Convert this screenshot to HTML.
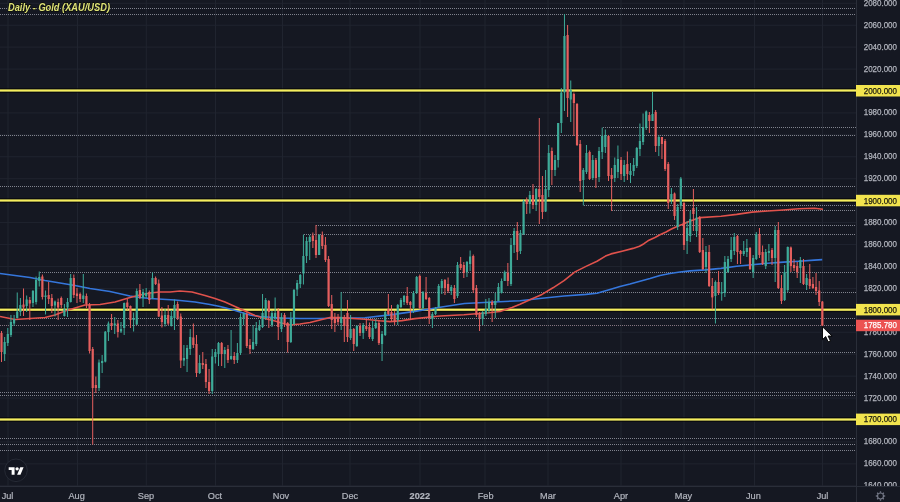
<!DOCTYPE html><html><head><meta charset="utf-8"><style>
html,body{margin:0;padding:0;background:#151822;width:900px;height:502px;overflow:hidden}
svg{display:block;will-change:transform}
text{font-family:"Liberation Sans",sans-serif}
</style></head><body>
<svg width="900" height="502" viewBox="0 0 900 502">
<rect x="0" y="0" width="900" height="502" fill="#151822"/>
<defs><clipPath id="pane"><rect x="0" y="0" width="856" height="486"/></clipPath></defs>
<g clip-path="url(#pane)">
<rect x="0" y="2.76" width="856" height="1" fill="#20242f"/>
<rect x="0" y="24.70" width="856" height="1" fill="#20242f"/>
<rect x="0" y="46.63" width="856" height="1" fill="#20242f"/>
<rect x="0" y="68.57" width="856" height="1" fill="#20242f"/>
<rect x="0" y="90.50" width="856" height="1" fill="#20242f"/>
<rect x="0" y="112.43" width="856" height="1" fill="#20242f"/>
<rect x="0" y="134.37" width="856" height="1" fill="#20242f"/>
<rect x="0" y="156.30" width="856" height="1" fill="#20242f"/>
<rect x="0" y="178.24" width="856" height="1" fill="#20242f"/>
<rect x="0" y="200.17" width="856" height="1" fill="#20242f"/>
<rect x="0" y="222.10" width="856" height="1" fill="#20242f"/>
<rect x="0" y="244.04" width="856" height="1" fill="#20242f"/>
<rect x="0" y="265.97" width="856" height="1" fill="#20242f"/>
<rect x="0" y="287.91" width="856" height="1" fill="#20242f"/>
<rect x="0" y="309.84" width="856" height="1" fill="#20242f"/>
<rect x="0" y="331.77" width="856" height="1" fill="#20242f"/>
<rect x="0" y="353.71" width="856" height="1" fill="#20242f"/>
<rect x="0" y="375.64" width="856" height="1" fill="#20242f"/>
<rect x="0" y="397.58" width="856" height="1" fill="#20242f"/>
<rect x="0" y="419.51" width="856" height="1" fill="#20242f"/>
<rect x="0" y="441.44" width="856" height="1" fill="#20242f"/>
<rect x="0" y="463.38" width="856" height="1" fill="#20242f"/>
<rect x="0" y="485.31" width="856" height="1" fill="#20242f"/>
<rect x="7.50" y="0" width="1" height="486" fill="#20242f"/>
<rect x="77.00" y="0" width="1" height="486" fill="#20242f"/>
<rect x="145.80" y="0" width="1" height="486" fill="#20242f"/>
<rect x="215.00" y="0" width="1" height="486" fill="#20242f"/>
<rect x="282.00" y="0" width="1" height="486" fill="#20242f"/>
<rect x="349.50" y="0" width="1" height="486" fill="#20242f"/>
<rect x="419.50" y="0" width="1" height="486" fill="#20242f"/>
<rect x="484.50" y="0" width="1" height="486" fill="#20242f"/>
<rect x="547.50" y="0" width="1" height="486" fill="#20242f"/>
<rect x="620.50" y="0" width="1" height="486" fill="#20242f"/>
<rect x="683.50" y="0" width="1" height="486" fill="#20242f"/>
<rect x="754.00" y="0" width="1" height="486" fill="#20242f"/>
<rect x="822.00" y="0" width="1" height="486" fill="#20242f"/>
<line x1="0.0" y1="8.5" x2="856" y2="8.5" stroke="#80838e" stroke-width="1" stroke-dasharray="1 1"/>
<line x1="0.0" y1="14.5" x2="856" y2="14.5" stroke="#80838e" stroke-width="1" stroke-dasharray="1 1"/>
<line x1="603.0" y1="127.5" x2="856" y2="127.5" stroke="#80838e" stroke-width="1" stroke-dasharray="1 1"/>
<line x1="0.0" y1="135.5" x2="856" y2="135.5" stroke="#80838e" stroke-width="1" stroke-dasharray="1 1"/>
<line x1="0.0" y1="186.5" x2="856" y2="186.5" stroke="#80838e" stroke-width="1" stroke-dasharray="1 1"/>
<line x1="584.0" y1="205.5" x2="856" y2="205.5" stroke="#80838e" stroke-width="1" stroke-dasharray="1 1"/>
<line x1="612.0" y1="210.5" x2="856" y2="210.5" stroke="#80838e" stroke-width="1" stroke-dasharray="1 1"/>
<line x1="316.0" y1="225.5" x2="856" y2="225.5" stroke="#80838e" stroke-width="1" stroke-dasharray="1 1"/>
<line x1="304.0" y1="234.5" x2="856" y2="234.5" stroke="#80838e" stroke-width="1" stroke-dasharray="1 1"/>
<line x1="40.0" y1="272.5" x2="856" y2="272.5" stroke="#80838e" stroke-width="1" stroke-dasharray="1 1"/>
<line x1="341.0" y1="292.5" x2="856" y2="292.5" stroke="#80838e" stroke-width="1" stroke-dasharray="1 1"/>
<line x1="30.0" y1="318.5" x2="856" y2="318.5" stroke="#80838e" stroke-width="1" stroke-dasharray="1 1"/>
<line x1="250.0" y1="352.5" x2="856" y2="352.5" stroke="#80838e" stroke-width="1" stroke-dasharray="1 1"/>
<line x1="0.0" y1="392.5" x2="856" y2="392.5" stroke="#80838e" stroke-width="1" stroke-dasharray="1 1"/>
<line x1="0.0" y1="395.5" x2="856" y2="395.5" stroke="#80838e" stroke-width="1" stroke-dasharray="1 1"/>
<line x1="0.0" y1="438.5" x2="856" y2="438.5" stroke="#80838e" stroke-width="1" stroke-dasharray="1 1"/>
<line x1="0.0" y1="444.5" x2="856" y2="444.5" stroke="#80838e" stroke-width="1" stroke-dasharray="1 1"/>
<line x1="0.0" y1="450.5" x2="856" y2="450.5" stroke="#80838e" stroke-width="1" stroke-dasharray="1 1"/>
<line x1="0" y1="325.5" x2="856" y2="325.5" stroke="#857580" stroke-width="1" stroke-dasharray="1 1"/>
<rect x="0" y="88.10" width="856" height="1.2" fill="#07080a" opacity="0.8"/>
<rect x="0" y="91.70" width="856" height="1.2" fill="#07080a" opacity="0.8"/>
<rect x="0" y="89.40" width="856" height="2.2" fill="#f6ee5e"/>
<rect x="0" y="198.10" width="856" height="1.2" fill="#07080a" opacity="0.8"/>
<rect x="0" y="201.70" width="856" height="1.2" fill="#07080a" opacity="0.8"/>
<rect x="0" y="199.40" width="856" height="2.2" fill="#f6ee5e"/>
<rect x="0" y="307.30" width="856" height="1.2" fill="#07080a" opacity="0.8"/>
<rect x="0" y="310.90" width="856" height="1.2" fill="#07080a" opacity="0.8"/>
<rect x="0" y="308.60" width="856" height="2.2" fill="#f6ee5e"/>
<rect x="0" y="417.10" width="856" height="1.2" fill="#07080a" opacity="0.8"/>
<rect x="0" y="420.70" width="856" height="1.2" fill="#07080a" opacity="0.8"/>
<rect x="0" y="418.40" width="856" height="2.2" fill="#f6ee5e"/>
<polyline points="0.0,273.5 30.0,277.5 45.0,280.5 60.0,283.0 75.0,285.5 90.0,288.5 110.0,291.5 130.0,296.0 140.0,297.5 150.0,298.5 175.0,300.0 195.0,302.0 210.0,304.5 220.0,306.5 230.0,309.0 240.0,312.0 250.0,315.0 260.0,316.5 280.0,318.0 300.0,318.5 320.0,318.5 340.0,318.0 365.0,317.7 390.0,314.9 415.0,311.4 440.0,307.3 464.5,303.5 489.0,302.2 514.0,301.0 520.0,300.7 542.0,298.2 564.0,296.0 586.0,294.4 597.0,293.3 603.0,291.5 610.0,289.5 620.0,286.5 630.0,284.0 640.0,281.2 650.0,278.5 660.0,275.5 670.0,273.5 680.0,272.0 690.0,270.9 705.5,269.9 721.0,268.4 736.7,266.3 752.0,264.8 767.8,263.2 783.3,262.1 799.0,261.2 814.4,260.1 822.2,259.6" fill="none" stroke="#3576db" stroke-width="1.6" stroke-linejoin="round"/>
<polyline points="0.0,316.5 15.0,319.5 30.0,318.5 45.0,317.5 55.0,315.0 65.0,311.0 85.0,305.0 100.0,304.5 115.0,302.0 130.0,297.5 140.0,295.0 150.0,293.0 160.0,292.0 170.0,292.0 180.0,291.0 192.0,292.0 205.0,295.5 215.0,298.5 225.0,302.0 235.0,306.5 245.0,311.0 255.0,315.5 265.0,318.5 275.0,321.0 283.0,323.5 290.0,325.0 300.0,324.0 310.0,322.5 320.0,320.0 330.0,317.5 340.0,317.6 365.0,319.2 380.0,320.8 390.0,321.6 402.0,320.6 415.0,318.6 440.0,316.0 464.0,314.7 489.0,312.7 500.0,311.5 512.0,307.5 520.0,304.3 531.0,299.3 542.0,294.4 553.0,287.8 564.0,280.7 575.0,271.9 586.0,266.4 597.0,261.2 605.5,256.1 611.0,253.9 622.0,251.2 633.0,248.4 639.5,246.3 644.0,243.7 649.0,240.2 655.0,237.5 660.0,234.7 666.0,232.0 671.0,229.3 677.0,226.5 682.0,224.6 689.0,221.6 700.0,217.6 721.0,216.2 736.7,214.4 752.0,212.1 767.8,211.0 783.3,210.0 798.9,208.7 814.4,208.2 823.0,209.3" fill="none" stroke="#e0524c" stroke-width="1.6" stroke-linejoin="round"/>
<rect x="1.00" y="331.0" width="1" height="31.0" fill="#e55f5e"/>
<rect x="0.40" y="333.0" width="2.2" height="19.0" fill="#e55f5e"/>
<rect x="4.14" y="337.0" width="1" height="24.0" fill="#3eaa98"/>
<rect x="3.54" y="342.0" width="2.2" height="12.0" fill="#3eaa98"/>
<rect x="7.29" y="328.0" width="1" height="18.0" fill="#3eaa98"/>
<rect x="6.69" y="334.0" width="2.2" height="9.0" fill="#3eaa98"/>
<rect x="10.44" y="315.0" width="1" height="22.0" fill="#3eaa98"/>
<rect x="9.84" y="322.0" width="2.2" height="13.0" fill="#3eaa98"/>
<rect x="13.58" y="315.0" width="1" height="11.0" fill="#3eaa98"/>
<rect x="12.98" y="319.0" width="2.2" height="4.5" fill="#3eaa98"/>
<rect x="16.73" y="292.5" width="1" height="26.0" fill="#3eaa98"/>
<rect x="16.12" y="311.5" width="2.2" height="6.5" fill="#3eaa98"/>
<rect x="19.87" y="298.0" width="1" height="18.0" fill="#3eaa98"/>
<rect x="19.27" y="305.0" width="2.2" height="7.0" fill="#3eaa98"/>
<rect x="23.02" y="288.5" width="1" height="27.5" fill="#e55f5e"/>
<rect x="22.41" y="304.5" width="2.2" height="3.0" fill="#e55f5e"/>
<rect x="26.16" y="295.5" width="1" height="16.5" fill="#3eaa98"/>
<rect x="25.56" y="299.5" width="2.2" height="6.5" fill="#3eaa98"/>
<rect x="29.30" y="297.0" width="1" height="23.0" fill="#e55f5e"/>
<rect x="28.70" y="300.0" width="2.2" height="3.5" fill="#e55f5e"/>
<rect x="32.45" y="290.0" width="1" height="17.0" fill="#3eaa98"/>
<rect x="31.85" y="291.0" width="2.2" height="12.0" fill="#3eaa98"/>
<rect x="35.59" y="276.5" width="1" height="28.0" fill="#3eaa98"/>
<rect x="34.99" y="280.0" width="2.2" height="22.0" fill="#3eaa98"/>
<rect x="38.74" y="271.5" width="1" height="15.0" fill="#3eaa98"/>
<rect x="38.14" y="277.0" width="2.2" height="4.0" fill="#3eaa98"/>
<rect x="41.88" y="274.5" width="1" height="25.0" fill="#e55f5e"/>
<rect x="41.28" y="276.5" width="2.2" height="20.5" fill="#e55f5e"/>
<rect x="45.03" y="290.5" width="1" height="24.0" fill="#3eaa98"/>
<rect x="44.43" y="295.5" width="2.2" height="1.5" fill="#3eaa98"/>
<rect x="48.17" y="282.0" width="1" height="22.0" fill="#e55f5e"/>
<rect x="47.57" y="295.0" width="2.2" height="4.0" fill="#e55f5e"/>
<rect x="51.32" y="294.0" width="1" height="19.0" fill="#e55f5e"/>
<rect x="50.72" y="298.0" width="2.2" height="8.0" fill="#e55f5e"/>
<rect x="54.47" y="300.5" width="1" height="16.0" fill="#3eaa98"/>
<rect x="53.87" y="301.5" width="2.2" height="4.0" fill="#3eaa98"/>
<rect x="57.61" y="298.5" width="1" height="21.5" fill="#e55f5e"/>
<rect x="57.01" y="302.0" width="2.2" height="5.5" fill="#e55f5e"/>
<rect x="60.76" y="296.5" width="1" height="11.5" fill="#e55f5e"/>
<rect x="60.16" y="298.0" width="2.2" height="7.0" fill="#e55f5e"/>
<rect x="63.90" y="304.0" width="1" height="12.5" fill="#3eaa98"/>
<rect x="63.30" y="309.0" width="2.2" height="7.0" fill="#3eaa98"/>
<rect x="67.05" y="298.0" width="1" height="19.0" fill="#3eaa98"/>
<rect x="66.45" y="302.0" width="2.2" height="5.5" fill="#3eaa98"/>
<rect x="70.19" y="274.0" width="1" height="28.5" fill="#3eaa98"/>
<rect x="69.59" y="278.0" width="2.2" height="24.0" fill="#3eaa98"/>
<rect x="73.33" y="274.5" width="1" height="23.5" fill="#e55f5e"/>
<rect x="72.73" y="278.0" width="2.2" height="17.0" fill="#e55f5e"/>
<rect x="76.48" y="288.0" width="1" height="15.0" fill="#e55f5e"/>
<rect x="75.88" y="293.5" width="2.2" height="2.5" fill="#e55f5e"/>
<rect x="79.62" y="292.5" width="1" height="9.5" fill="#e55f5e"/>
<rect x="79.03" y="294.0" width="2.2" height="5.0" fill="#e55f5e"/>
<rect x="82.77" y="274.0" width="1" height="29.0" fill="#3eaa98"/>
<rect x="82.17" y="295.5" width="2.2" height="3.5" fill="#3eaa98"/>
<rect x="85.92" y="293.5" width="1" height="14.5" fill="#e55f5e"/>
<rect x="85.32" y="296.0" width="2.2" height="8.0" fill="#e55f5e"/>
<rect x="89.06" y="303.0" width="1" height="50.5" fill="#e55f5e"/>
<rect x="88.46" y="305.0" width="2.2" height="46.0" fill="#e55f5e"/>
<rect x="92.20" y="347.0" width="1" height="97.5" fill="#e55f5e"/>
<rect x="91.61" y="349.0" width="2.2" height="39.0" fill="#e55f5e"/>
<rect x="95.35" y="376.5" width="1" height="16.5" fill="#e55f5e"/>
<rect x="94.75" y="385.0" width="2.2" height="3.0" fill="#e55f5e"/>
<rect x="98.50" y="359.5" width="1" height="31.5" fill="#3eaa98"/>
<rect x="97.90" y="362.5" width="2.2" height="25.5" fill="#3eaa98"/>
<rect x="101.64" y="355.0" width="1" height="18.0" fill="#3eaa98"/>
<rect x="101.04" y="361.0" width="2.2" height="2.0" fill="#3eaa98"/>
<rect x="104.78" y="331.0" width="1" height="31.4" fill="#3eaa98"/>
<rect x="104.19" y="331.7" width="2.2" height="29.9" fill="#3eaa98"/>
<rect x="107.93" y="321.5" width="1" height="19.5" fill="#3eaa98"/>
<rect x="107.33" y="323.5" width="2.2" height="8.5" fill="#3eaa98"/>
<rect x="111.08" y="314.0" width="1" height="16.0" fill="#e55f5e"/>
<rect x="110.48" y="323.0" width="2.2" height="2.5" fill="#e55f5e"/>
<rect x="114.22" y="317.0" width="1" height="17.0" fill="#3eaa98"/>
<rect x="113.62" y="323.5" width="2.2" height="2.0" fill="#3eaa98"/>
<rect x="117.36" y="320.0" width="1" height="17.5" fill="#e55f5e"/>
<rect x="116.77" y="323.5" width="2.2" height="8.5" fill="#e55f5e"/>
<rect x="120.51" y="322.0" width="1" height="11.0" fill="#3eaa98"/>
<rect x="119.91" y="329.0" width="2.2" height="2.5" fill="#3eaa98"/>
<rect x="123.66" y="302.5" width="1" height="32.5" fill="#3eaa98"/>
<rect x="123.06" y="303.0" width="2.2" height="25.0" fill="#3eaa98"/>
<rect x="126.80" y="299.0" width="1" height="11.0" fill="#e55f5e"/>
<rect x="126.20" y="302.5" width="2.2" height="4.5" fill="#e55f5e"/>
<rect x="129.94" y="305.5" width="1" height="22.5" fill="#e55f5e"/>
<rect x="129.34" y="306.0" width="2.2" height="14.0" fill="#e55f5e"/>
<rect x="133.09" y="312.5" width="1" height="19.0" fill="#3eaa98"/>
<rect x="132.49" y="318.0" width="2.2" height="2.0" fill="#3eaa98"/>
<rect x="136.24" y="288.5" width="1" height="36.5" fill="#3eaa98"/>
<rect x="135.64" y="291.0" width="2.2" height="33.5" fill="#3eaa98"/>
<rect x="139.38" y="284.0" width="1" height="15.0" fill="#e55f5e"/>
<rect x="138.78" y="290.0" width="2.2" height="8.0" fill="#e55f5e"/>
<rect x="142.53" y="289.0" width="1" height="18.0" fill="#3eaa98"/>
<rect x="141.93" y="292.0" width="2.2" height="6.0" fill="#3eaa98"/>
<rect x="145.67" y="288.0" width="1" height="10.0" fill="#3eaa98"/>
<rect x="145.07" y="293.0" width="2.2" height="3.0" fill="#3eaa98"/>
<rect x="148.81" y="290.5" width="1" height="13.5" fill="#e55f5e"/>
<rect x="148.22" y="292.0" width="2.2" height="8.0" fill="#e55f5e"/>
<rect x="151.96" y="272.5" width="1" height="26.5" fill="#3eaa98"/>
<rect x="151.36" y="278.0" width="2.2" height="20.0" fill="#3eaa98"/>
<rect x="155.10" y="276.5" width="1" height="8.5" fill="#e55f5e"/>
<rect x="154.50" y="278.0" width="2.2" height="6.0" fill="#e55f5e"/>
<rect x="158.25" y="279.5" width="1" height="37.5" fill="#e55f5e"/>
<rect x="157.65" y="283.5" width="2.2" height="33.0" fill="#e55f5e"/>
<rect x="161.40" y="307.0" width="1" height="20.5" fill="#e55f5e"/>
<rect x="160.80" y="315.5" width="2.2" height="6.5" fill="#e55f5e"/>
<rect x="164.54" y="309.0" width="1" height="17.5" fill="#3eaa98"/>
<rect x="163.94" y="315.0" width="2.2" height="9.0" fill="#3eaa98"/>
<rect x="167.69" y="305.0" width="1" height="20.0" fill="#e55f5e"/>
<rect x="167.09" y="315.0" width="2.2" height="8.5" fill="#e55f5e"/>
<rect x="170.83" y="310.0" width="1" height="16.5" fill="#3eaa98"/>
<rect x="170.23" y="316.0" width="2.2" height="10.0" fill="#3eaa98"/>
<rect x="173.97" y="299.5" width="1" height="30.5" fill="#3eaa98"/>
<rect x="173.38" y="305.0" width="2.2" height="13.0" fill="#3eaa98"/>
<rect x="177.12" y="301.5" width="1" height="18.5" fill="#e55f5e"/>
<rect x="176.52" y="304.0" width="2.2" height="14.0" fill="#e55f5e"/>
<rect x="180.27" y="313.5" width="1" height="54.5" fill="#e55f5e"/>
<rect x="179.67" y="316.5" width="2.2" height="44.0" fill="#e55f5e"/>
<rect x="183.41" y="345.0" width="1" height="21.0" fill="#3eaa98"/>
<rect x="182.81" y="358.0" width="2.2" height="2.5" fill="#3eaa98"/>
<rect x="186.56" y="345.0" width="1" height="27.0" fill="#3eaa98"/>
<rect x="185.96" y="348.0" width="2.2" height="11.0" fill="#3eaa98"/>
<rect x="189.70" y="329.0" width="1" height="26.0" fill="#3eaa98"/>
<rect x="189.10" y="337.0" width="2.2" height="12.0" fill="#3eaa98"/>
<rect x="192.84" y="323.5" width="1" height="24.5" fill="#e55f5e"/>
<rect x="192.25" y="337.5" width="2.2" height="7.5" fill="#e55f5e"/>
<rect x="195.99" y="335.0" width="1" height="42.0" fill="#e55f5e"/>
<rect x="195.39" y="344.0" width="2.2" height="29.0" fill="#e55f5e"/>
<rect x="199.13" y="355.0" width="1" height="19.0" fill="#3eaa98"/>
<rect x="198.53" y="363.0" width="2.2" height="10.0" fill="#3eaa98"/>
<rect x="202.28" y="352.0" width="1" height="17.0" fill="#e55f5e"/>
<rect x="201.68" y="363.0" width="2.2" height="2.0" fill="#e55f5e"/>
<rect x="205.43" y="359.0" width="1" height="29.0" fill="#e55f5e"/>
<rect x="204.83" y="364.0" width="2.2" height="18.0" fill="#e55f5e"/>
<rect x="208.57" y="369.0" width="1" height="25.0" fill="#e55f5e"/>
<rect x="207.97" y="382.0" width="2.2" height="9.0" fill="#e55f5e"/>
<rect x="211.72" y="349.0" width="1" height="45.0" fill="#3eaa98"/>
<rect x="211.12" y="356.5" width="2.2" height="34.5" fill="#3eaa98"/>
<rect x="214.86" y="349.0" width="1" height="14.5" fill="#3eaa98"/>
<rect x="214.26" y="352.0" width="2.2" height="5.0" fill="#3eaa98"/>
<rect x="218.00" y="342.0" width="1" height="24.0" fill="#3eaa98"/>
<rect x="217.41" y="343.0" width="2.2" height="11.0" fill="#3eaa98"/>
<rect x="221.15" y="342.0" width="1" height="24.0" fill="#e55f5e"/>
<rect x="220.55" y="343.0" width="2.2" height="11.0" fill="#e55f5e"/>
<rect x="224.29" y="347.0" width="1" height="21.0" fill="#3eaa98"/>
<rect x="223.69" y="350.0" width="2.2" height="4.0" fill="#3eaa98"/>
<rect x="227.44" y="345.0" width="1" height="18.0" fill="#e55f5e"/>
<rect x="226.84" y="349.0" width="2.2" height="11.0" fill="#e55f5e"/>
<rect x="230.59" y="330.0" width="1" height="30.0" fill="#3eaa98"/>
<rect x="229.99" y="356.0" width="2.2" height="3.0" fill="#3eaa98"/>
<rect x="233.73" y="352.0" width="1" height="12.0" fill="#e55f5e"/>
<rect x="233.13" y="356.0" width="2.2" height="4.0" fill="#e55f5e"/>
<rect x="236.88" y="343.0" width="1" height="20.0" fill="#3eaa98"/>
<rect x="236.28" y="353.0" width="2.2" height="7.0" fill="#3eaa98"/>
<rect x="240.02" y="313.5" width="1" height="41.5" fill="#3eaa98"/>
<rect x="239.42" y="317.0" width="2.2" height="36.0" fill="#3eaa98"/>
<rect x="243.16" y="312.5" width="1" height="12.5" fill="#3eaa98"/>
<rect x="242.56" y="313.5" width="2.2" height="4.5" fill="#3eaa98"/>
<rect x="246.31" y="312.5" width="1" height="35.5" fill="#e55f5e"/>
<rect x="245.71" y="314.0" width="2.2" height="32.0" fill="#e55f5e"/>
<rect x="249.46" y="339.0" width="1" height="15.0" fill="#e55f5e"/>
<rect x="248.86" y="345.0" width="2.2" height="4.0" fill="#e55f5e"/>
<rect x="252.60" y="325.0" width="1" height="25.0" fill="#3eaa98"/>
<rect x="252.00" y="342.0" width="2.2" height="7.0" fill="#3eaa98"/>
<rect x="255.75" y="322.0" width="1" height="24.0" fill="#3eaa98"/>
<rect x="255.15" y="328.0" width="2.2" height="16.0" fill="#3eaa98"/>
<rect x="258.89" y="320.0" width="1" height="11.0" fill="#3eaa98"/>
<rect x="258.29" y="326.0" width="2.2" height="4.0" fill="#3eaa98"/>
<rect x="262.04" y="294.0" width="1" height="34.0" fill="#3eaa98"/>
<rect x="261.44" y="313.0" width="2.2" height="14.0" fill="#3eaa98"/>
<rect x="265.18" y="298.0" width="1" height="22.0" fill="#3eaa98"/>
<rect x="264.58" y="300.0" width="2.2" height="18.0" fill="#3eaa98"/>
<rect x="268.32" y="300.0" width="1" height="28.0" fill="#e55f5e"/>
<rect x="267.72" y="301.0" width="2.2" height="11.0" fill="#e55f5e"/>
<rect x="271.47" y="311.0" width="1" height="16.0" fill="#3eaa98"/>
<rect x="270.87" y="313.0" width="2.2" height="12.0" fill="#3eaa98"/>
<rect x="274.62" y="297.5" width="1" height="22.5" fill="#3eaa98"/>
<rect x="274.01" y="313.0" width="2.2" height="5.0" fill="#3eaa98"/>
<rect x="277.76" y="308.0" width="1" height="32.0" fill="#e55f5e"/>
<rect x="277.16" y="311.0" width="2.2" height="16.0" fill="#e55f5e"/>
<rect x="280.91" y="313.0" width="1" height="19.0" fill="#3eaa98"/>
<rect x="280.31" y="317.0" width="2.2" height="12.0" fill="#3eaa98"/>
<rect x="284.05" y="313.0" width="1" height="14.0" fill="#e55f5e"/>
<rect x="283.45" y="315.0" width="2.2" height="8.0" fill="#e55f5e"/>
<rect x="287.19" y="322.0" width="1" height="30.5" fill="#e55f5e"/>
<rect x="286.59" y="323.0" width="2.2" height="19.0" fill="#e55f5e"/>
<rect x="290.34" y="312.0" width="1" height="31.0" fill="#3eaa98"/>
<rect x="289.74" y="319.0" width="2.2" height="23.0" fill="#3eaa98"/>
<rect x="293.49" y="289.0" width="1" height="36.0" fill="#3eaa98"/>
<rect x="292.88" y="290.0" width="2.2" height="34.0" fill="#3eaa98"/>
<rect x="296.63" y="280.0" width="1" height="16.0" fill="#3eaa98"/>
<rect x="296.03" y="283.0" width="2.2" height="6.5" fill="#3eaa98"/>
<rect x="299.77" y="274.0" width="1" height="14.0" fill="#3eaa98"/>
<rect x="299.17" y="275.0" width="2.2" height="9.0" fill="#3eaa98"/>
<rect x="302.92" y="234.5" width="1" height="50.0" fill="#3eaa98"/>
<rect x="302.32" y="256.0" width="2.2" height="17.5" fill="#3eaa98"/>
<rect x="306.06" y="237.0" width="1" height="26.0" fill="#3eaa98"/>
<rect x="305.46" y="241.0" width="2.2" height="15.0" fill="#3eaa98"/>
<rect x="309.21" y="235.0" width="1" height="25.0" fill="#3eaa98"/>
<rect x="308.61" y="237.0" width="2.2" height="5.0" fill="#3eaa98"/>
<rect x="312.36" y="232.5" width="1" height="15.5" fill="#e55f5e"/>
<rect x="311.75" y="235.5" width="2.2" height="5.5" fill="#e55f5e"/>
<rect x="315.50" y="225.0" width="1" height="33.0" fill="#e55f5e"/>
<rect x="314.90" y="240.0" width="2.2" height="15.0" fill="#e55f5e"/>
<rect x="318.64" y="234.0" width="1" height="21.0" fill="#3eaa98"/>
<rect x="318.04" y="235.0" width="2.2" height="20.0" fill="#3eaa98"/>
<rect x="321.79" y="231.5" width="1" height="17.5" fill="#e55f5e"/>
<rect x="321.19" y="235.0" width="2.2" height="11.0" fill="#e55f5e"/>
<rect x="324.94" y="237.0" width="1" height="25.0" fill="#e55f5e"/>
<rect x="324.33" y="245.0" width="2.2" height="15.0" fill="#e55f5e"/>
<rect x="328.08" y="256.0" width="1" height="51.0" fill="#e55f5e"/>
<rect x="327.48" y="259.0" width="2.2" height="47.0" fill="#e55f5e"/>
<rect x="331.23" y="295.0" width="1" height="34.0" fill="#e55f5e"/>
<rect x="330.62" y="304.0" width="2.2" height="16.0" fill="#e55f5e"/>
<rect x="334.37" y="313.0" width="1" height="19.0" fill="#e55f5e"/>
<rect x="333.77" y="318.0" width="2.2" height="5.0" fill="#e55f5e"/>
<rect x="337.51" y="314.0" width="1" height="11.0" fill="#e55f5e"/>
<rect x="336.91" y="317.0" width="2.2" height="5.0" fill="#e55f5e"/>
<rect x="340.66" y="292.0" width="1" height="38.0" fill="#3eaa98"/>
<rect x="340.06" y="317.0" width="2.2" height="6.0" fill="#3eaa98"/>
<rect x="343.81" y="315.0" width="1" height="27.0" fill="#e55f5e"/>
<rect x="343.20" y="317.0" width="2.2" height="9.0" fill="#e55f5e"/>
<rect x="346.95" y="300.0" width="1" height="42.0" fill="#e55f5e"/>
<rect x="346.35" y="313.0" width="2.2" height="24.0" fill="#e55f5e"/>
<rect x="350.10" y="315.0" width="1" height="25.0" fill="#3eaa98"/>
<rect x="349.50" y="329.0" width="2.2" height="9.0" fill="#3eaa98"/>
<rect x="353.24" y="328.0" width="1" height="23.0" fill="#e55f5e"/>
<rect x="352.64" y="329.0" width="2.2" height="15.0" fill="#e55f5e"/>
<rect x="356.38" y="325.0" width="1" height="22.0" fill="#3eaa98"/>
<rect x="355.78" y="326.0" width="2.2" height="20.0" fill="#3eaa98"/>
<rect x="359.53" y="323.0" width="1" height="13.0" fill="#e55f5e"/>
<rect x="358.93" y="326.0" width="2.2" height="7.0" fill="#e55f5e"/>
<rect x="362.68" y="323.0" width="1" height="16.0" fill="#3eaa98"/>
<rect x="362.07" y="325.0" width="2.2" height="8.0" fill="#3eaa98"/>
<rect x="365.82" y="319.0" width="1" height="12.0" fill="#e55f5e"/>
<rect x="365.22" y="326.0" width="2.2" height="3.0" fill="#e55f5e"/>
<rect x="368.96" y="322.5" width="1" height="16.5" fill="#e55f5e"/>
<rect x="368.36" y="327.0" width="2.2" height="10.0" fill="#e55f5e"/>
<rect x="372.11" y="321.0" width="1" height="20.0" fill="#3eaa98"/>
<rect x="371.51" y="328.0" width="2.2" height="11.0" fill="#3eaa98"/>
<rect x="375.25" y="319.0" width="1" height="10.0" fill="#3eaa98"/>
<rect x="374.65" y="323.0" width="2.2" height="5.0" fill="#3eaa98"/>
<rect x="378.40" y="321.0" width="1" height="24.0" fill="#e55f5e"/>
<rect x="377.80" y="323.0" width="2.2" height="20.0" fill="#e55f5e"/>
<rect x="381.55" y="331.0" width="1" height="30.0" fill="#3eaa98"/>
<rect x="380.94" y="334.0" width="2.2" height="10.0" fill="#3eaa98"/>
<rect x="384.69" y="311.0" width="1" height="25.0" fill="#3eaa98"/>
<rect x="384.09" y="312.0" width="2.2" height="23.0" fill="#3eaa98"/>
<rect x="387.83" y="294.0" width="1" height="21.0" fill="#e55f5e"/>
<rect x="387.23" y="309.0" width="2.2" height="5.0" fill="#e55f5e"/>
<rect x="390.98" y="305.0" width="1" height="16.0" fill="#e55f5e"/>
<rect x="390.38" y="312.0" width="2.2" height="7.0" fill="#e55f5e"/>
<rect x="394.12" y="311.0" width="1" height="14.0" fill="#e55f5e"/>
<rect x="393.52" y="315.0" width="2.2" height="7.0" fill="#e55f5e"/>
<rect x="397.27" y="304.0" width="1" height="21.0" fill="#3eaa98"/>
<rect x="396.67" y="305.0" width="2.2" height="15.0" fill="#3eaa98"/>
<rect x="400.42" y="298.0" width="1" height="10.0" fill="#3eaa98"/>
<rect x="399.81" y="300.0" width="2.2" height="7.0" fill="#3eaa98"/>
<rect x="403.56" y="295.0" width="1" height="10.0" fill="#3eaa98"/>
<rect x="402.96" y="296.0" width="2.2" height="6.0" fill="#3eaa98"/>
<rect x="406.70" y="287.0" width="1" height="18.0" fill="#e55f5e"/>
<rect x="406.10" y="296.0" width="2.2" height="7.0" fill="#e55f5e"/>
<rect x="409.85" y="301.0" width="1" height="19.0" fill="#e55f5e"/>
<rect x="409.25" y="302.0" width="2.2" height="3.0" fill="#e55f5e"/>
<rect x="413.00" y="291.0" width="1" height="22.0" fill="#3eaa98"/>
<rect x="412.39" y="293.0" width="2.2" height="15.0" fill="#3eaa98"/>
<rect x="416.14" y="276.0" width="1" height="18.0" fill="#3eaa98"/>
<rect x="415.54" y="277.0" width="2.2" height="16.0" fill="#3eaa98"/>
<rect x="419.29" y="274.5" width="1" height="34.5" fill="#e55f5e"/>
<rect x="418.69" y="276.0" width="2.2" height="32.0" fill="#e55f5e"/>
<rect x="422.43" y="291.0" width="1" height="18.0" fill="#3eaa98"/>
<rect x="421.83" y="292.0" width="2.2" height="16.0" fill="#3eaa98"/>
<rect x="425.57" y="277.0" width="1" height="23.0" fill="#e55f5e"/>
<rect x="424.97" y="293.0" width="2.2" height="6.0" fill="#e55f5e"/>
<rect x="428.72" y="297.0" width="1" height="27.0" fill="#e55f5e"/>
<rect x="428.12" y="298.0" width="2.2" height="20.0" fill="#e55f5e"/>
<rect x="431.87" y="312.0" width="1" height="16.0" fill="#3eaa98"/>
<rect x="431.26" y="314.0" width="2.2" height="5.0" fill="#3eaa98"/>
<rect x="435.01" y="307.0" width="1" height="8.0" fill="#3eaa98"/>
<rect x="434.41" y="308.0" width="2.2" height="6.0" fill="#3eaa98"/>
<rect x="438.16" y="284.0" width="1" height="23.5" fill="#3eaa98"/>
<rect x="437.56" y="286.0" width="2.2" height="21.0" fill="#3eaa98"/>
<rect x="441.30" y="279.0" width="1" height="15.0" fill="#3eaa98"/>
<rect x="440.70" y="281.0" width="2.2" height="7.0" fill="#3eaa98"/>
<rect x="444.44" y="279.0" width="1" height="16.0" fill="#e55f5e"/>
<rect x="443.84" y="280.0" width="2.2" height="8.0" fill="#e55f5e"/>
<rect x="447.59" y="277.5" width="1" height="15.5" fill="#e55f5e"/>
<rect x="446.99" y="284.0" width="2.2" height="7.0" fill="#e55f5e"/>
<rect x="450.74" y="285.0" width="1" height="10.0" fill="#3eaa98"/>
<rect x="450.13" y="287.0" width="2.2" height="4.0" fill="#3eaa98"/>
<rect x="453.88" y="285.0" width="1" height="18.0" fill="#e55f5e"/>
<rect x="453.28" y="288.0" width="2.2" height="11.0" fill="#e55f5e"/>
<rect x="457.02" y="262.0" width="1" height="36.0" fill="#3eaa98"/>
<rect x="456.42" y="265.0" width="2.2" height="31.0" fill="#3eaa98"/>
<rect x="460.17" y="257.0" width="1" height="13.0" fill="#e55f5e"/>
<rect x="459.57" y="264.0" width="2.2" height="4.0" fill="#e55f5e"/>
<rect x="463.31" y="262.0" width="1" height="16.0" fill="#e55f5e"/>
<rect x="462.71" y="265.0" width="2.2" height="8.0" fill="#e55f5e"/>
<rect x="466.46" y="261.0" width="1" height="16.0" fill="#3eaa98"/>
<rect x="465.86" y="262.0" width="2.2" height="10.0" fill="#3eaa98"/>
<rect x="469.61" y="250.5" width="1" height="20.5" fill="#3eaa98"/>
<rect x="469.00" y="256.5" width="2.2" height="7.5" fill="#3eaa98"/>
<rect x="472.75" y="254.5" width="1" height="38.5" fill="#e55f5e"/>
<rect x="472.15" y="256.0" width="2.2" height="34.0" fill="#e55f5e"/>
<rect x="475.89" y="285.0" width="1" height="32.0" fill="#e55f5e"/>
<rect x="475.29" y="288.0" width="2.2" height="27.0" fill="#e55f5e"/>
<rect x="479.04" y="312.0" width="1" height="19.0" fill="#e55f5e"/>
<rect x="478.44" y="314.0" width="2.2" height="4.0" fill="#e55f5e"/>
<rect x="482.19" y="311.0" width="1" height="14.0" fill="#3eaa98"/>
<rect x="481.58" y="312.0" width="2.2" height="7.0" fill="#3eaa98"/>
<rect x="485.33" y="299.0" width="1" height="17.0" fill="#3eaa98"/>
<rect x="484.73" y="309.0" width="2.2" height="5.0" fill="#3eaa98"/>
<rect x="488.48" y="298.0" width="1" height="15.0" fill="#3eaa98"/>
<rect x="487.88" y="302.0" width="2.2" height="8.0" fill="#3eaa98"/>
<rect x="491.62" y="300.0" width="1" height="22.0" fill="#e55f5e"/>
<rect x="491.02" y="302.0" width="2.2" height="3.0" fill="#e55f5e"/>
<rect x="494.76" y="293.0" width="1" height="25.0" fill="#3eaa98"/>
<rect x="494.16" y="301.0" width="2.2" height="4.0" fill="#3eaa98"/>
<rect x="497.91" y="283.0" width="1" height="18.0" fill="#3eaa98"/>
<rect x="497.31" y="287.0" width="2.2" height="14.0" fill="#3eaa98"/>
<rect x="501.06" y="278.5" width="1" height="15.0" fill="#3eaa98"/>
<rect x="500.45" y="281.0" width="2.2" height="12.0" fill="#3eaa98"/>
<rect x="504.20" y="270.5" width="1" height="10.5" fill="#3eaa98"/>
<rect x="503.60" y="272.0" width="2.2" height="9.0" fill="#3eaa98"/>
<rect x="507.35" y="263.0" width="1" height="23.0" fill="#e55f5e"/>
<rect x="506.75" y="273.0" width="2.2" height="8.0" fill="#e55f5e"/>
<rect x="510.49" y="238.0" width="1" height="48.0" fill="#3eaa98"/>
<rect x="509.89" y="245.0" width="2.2" height="39.0" fill="#3eaa98"/>
<rect x="513.63" y="228.0" width="1" height="25.0" fill="#3eaa98"/>
<rect x="513.03" y="231.0" width="2.2" height="14.0" fill="#3eaa98"/>
<rect x="516.78" y="222.0" width="1" height="38.0" fill="#e55f5e"/>
<rect x="516.18" y="231.0" width="2.2" height="21.0" fill="#e55f5e"/>
<rect x="519.92" y="230.0" width="1" height="24.0" fill="#3eaa98"/>
<rect x="519.32" y="233.0" width="2.2" height="18.0" fill="#3eaa98"/>
<rect x="523.07" y="199.0" width="1" height="36.0" fill="#3eaa98"/>
<rect x="522.47" y="201.0" width="2.2" height="33.0" fill="#3eaa98"/>
<rect x="526.22" y="197.5" width="1" height="16.5" fill="#e55f5e"/>
<rect x="525.62" y="200.0" width="2.2" height="4.0" fill="#e55f5e"/>
<rect x="529.36" y="191.0" width="1" height="22.5" fill="#3eaa98"/>
<rect x="528.76" y="195.0" width="2.2" height="9.0" fill="#3eaa98"/>
<rect x="532.50" y="184.0" width="1" height="25.0" fill="#e55f5e"/>
<rect x="531.90" y="195.0" width="2.2" height="10.0" fill="#e55f5e"/>
<rect x="535.65" y="188.0" width="1" height="23.0" fill="#3eaa98"/>
<rect x="535.05" y="189.0" width="2.2" height="16.0" fill="#3eaa98"/>
<rect x="538.79" y="118.0" width="1" height="106.0" fill="#e55f5e"/>
<rect x="538.19" y="189.0" width="2.2" height="8.0" fill="#e55f5e"/>
<rect x="541.94" y="176.0" width="1" height="43.0" fill="#e55f5e"/>
<rect x="541.34" y="195.0" width="2.2" height="17.0" fill="#e55f5e"/>
<rect x="545.09" y="170.0" width="1" height="42.0" fill="#3eaa98"/>
<rect x="544.49" y="189.0" width="2.2" height="22.5" fill="#3eaa98"/>
<rect x="548.23" y="145.0" width="1" height="52.0" fill="#3eaa98"/>
<rect x="547.63" y="153.0" width="2.2" height="37.0" fill="#3eaa98"/>
<rect x="551.38" y="147.5" width="1" height="37.5" fill="#e55f5e"/>
<rect x="550.77" y="151.0" width="2.2" height="19.0" fill="#e55f5e"/>
<rect x="554.52" y="155.0" width="1" height="21.0" fill="#3eaa98"/>
<rect x="553.92" y="160.0" width="2.2" height="10.0" fill="#3eaa98"/>
<rect x="557.66" y="123.0" width="1" height="44.5" fill="#3eaa98"/>
<rect x="557.06" y="123.0" width="2.2" height="37.0" fill="#3eaa98"/>
<rect x="560.81" y="88.0" width="1" height="45.0" fill="#3eaa98"/>
<rect x="560.21" y="92.5" width="2.2" height="30.5" fill="#3eaa98"/>
<rect x="563.96" y="14.0" width="1" height="97.0" fill="#3eaa98"/>
<rect x="563.36" y="36.0" width="2.2" height="56.5" fill="#3eaa98"/>
<rect x="567.10" y="25.0" width="1" height="92.0" fill="#e55f5e"/>
<rect x="566.50" y="35.0" width="2.2" height="63.0" fill="#e55f5e"/>
<rect x="570.25" y="80.5" width="1" height="41.5" fill="#3eaa98"/>
<rect x="569.64" y="90.0" width="2.2" height="9.5" fill="#3eaa98"/>
<rect x="573.39" y="92.5" width="1" height="43.5" fill="#e55f5e"/>
<rect x="572.79" y="94.0" width="2.2" height="9.0" fill="#e55f5e"/>
<rect x="576.53" y="103.0" width="1" height="43.0" fill="#e55f5e"/>
<rect x="575.93" y="104.0" width="2.2" height="41.0" fill="#e55f5e"/>
<rect x="579.68" y="140.0" width="1" height="52.0" fill="#e55f5e"/>
<rect x="579.08" y="144.0" width="2.2" height="37.0" fill="#e55f5e"/>
<rect x="582.83" y="168.0" width="1" height="37.5" fill="#3eaa98"/>
<rect x="582.23" y="170.0" width="2.2" height="10.0" fill="#3eaa98"/>
<rect x="585.97" y="145.0" width="1" height="29.0" fill="#3eaa98"/>
<rect x="585.37" y="153.0" width="2.2" height="19.0" fill="#3eaa98"/>
<rect x="589.12" y="150.5" width="1" height="29.5" fill="#e55f5e"/>
<rect x="588.51" y="152.0" width="2.2" height="27.0" fill="#e55f5e"/>
<rect x="592.26" y="155.0" width="1" height="25.0" fill="#3eaa98"/>
<rect x="591.66" y="160.0" width="2.2" height="18.0" fill="#3eaa98"/>
<rect x="595.40" y="158.0" width="1" height="30.0" fill="#e55f5e"/>
<rect x="594.80" y="160.0" width="2.2" height="18.0" fill="#e55f5e"/>
<rect x="598.55" y="147.0" width="1" height="35.0" fill="#3eaa98"/>
<rect x="597.95" y="151.0" width="2.2" height="26.0" fill="#3eaa98"/>
<rect x="601.70" y="127.5" width="1" height="31.5" fill="#3eaa98"/>
<rect x="601.10" y="136.0" width="2.2" height="16.0" fill="#3eaa98"/>
<rect x="604.84" y="129.5" width="1" height="23.5" fill="#3eaa98"/>
<rect x="604.24" y="135.0" width="2.2" height="12.0" fill="#3eaa98"/>
<rect x="607.99" y="135.0" width="1" height="46.0" fill="#e55f5e"/>
<rect x="607.38" y="136.0" width="2.2" height="40.0" fill="#e55f5e"/>
<rect x="611.13" y="168.0" width="1" height="43.0" fill="#e55f5e"/>
<rect x="610.53" y="175.0" width="2.2" height="4.0" fill="#e55f5e"/>
<rect x="614.27" y="157.5" width="1" height="24.5" fill="#3eaa98"/>
<rect x="613.67" y="165.0" width="2.2" height="13.0" fill="#3eaa98"/>
<rect x="617.42" y="145.5" width="1" height="32.5" fill="#3eaa98"/>
<rect x="616.82" y="159.0" width="2.2" height="13.0" fill="#3eaa98"/>
<rect x="620.57" y="157.0" width="1" height="23.0" fill="#e55f5e"/>
<rect x="619.97" y="160.0" width="2.2" height="14.0" fill="#e55f5e"/>
<rect x="623.71" y="160.0" width="1" height="22.0" fill="#3eaa98"/>
<rect x="623.11" y="165.0" width="2.2" height="11.0" fill="#3eaa98"/>
<rect x="626.86" y="151.5" width="1" height="28.5" fill="#e55f5e"/>
<rect x="626.25" y="164.0" width="2.2" height="10.0" fill="#e55f5e"/>
<rect x="630.00" y="163.0" width="1" height="20.0" fill="#3eaa98"/>
<rect x="629.40" y="171.0" width="2.2" height="4.0" fill="#3eaa98"/>
<rect x="633.14" y="158.0" width="1" height="18.0" fill="#3eaa98"/>
<rect x="632.54" y="165.0" width="2.2" height="6.0" fill="#3eaa98"/>
<rect x="636.29" y="147.0" width="1" height="21.0" fill="#3eaa98"/>
<rect x="635.69" y="148.0" width="2.2" height="18.0" fill="#3eaa98"/>
<rect x="639.44" y="123.5" width="1" height="32.5" fill="#3eaa98"/>
<rect x="638.84" y="141.0" width="2.2" height="8.0" fill="#3eaa98"/>
<rect x="642.58" y="113.5" width="1" height="31.5" fill="#3eaa98"/>
<rect x="641.98" y="127.0" width="2.2" height="15.0" fill="#3eaa98"/>
<rect x="645.73" y="110.5" width="1" height="19.5" fill="#3eaa98"/>
<rect x="645.12" y="111.5" width="2.2" height="16.5" fill="#3eaa98"/>
<rect x="648.87" y="112.0" width="1" height="21.0" fill="#e55f5e"/>
<rect x="648.27" y="115.0" width="2.2" height="6.0" fill="#e55f5e"/>
<rect x="652.01" y="92.0" width="1" height="29.0" fill="#3eaa98"/>
<rect x="651.41" y="114.0" width="2.2" height="7.0" fill="#3eaa98"/>
<rect x="655.16" y="110.0" width="1" height="42.0" fill="#e55f5e"/>
<rect x="654.56" y="112.0" width="2.2" height="34.0" fill="#e55f5e"/>
<rect x="658.30" y="135.0" width="1" height="21.0" fill="#3eaa98"/>
<rect x="657.70" y="137.0" width="2.2" height="9.0" fill="#3eaa98"/>
<rect x="661.45" y="137.0" width="1" height="22.0" fill="#e55f5e"/>
<rect x="660.85" y="137.0" width="2.2" height="7.0" fill="#e55f5e"/>
<rect x="664.60" y="139.0" width="1" height="32.0" fill="#e55f5e"/>
<rect x="664.00" y="141.0" width="2.2" height="28.0" fill="#e55f5e"/>
<rect x="667.74" y="162.0" width="1" height="47.0" fill="#e55f5e"/>
<rect x="667.14" y="164.0" width="2.2" height="39.0" fill="#e55f5e"/>
<rect x="670.88" y="188.0" width="1" height="16.0" fill="#3eaa98"/>
<rect x="670.28" y="194.0" width="2.2" height="6.0" fill="#3eaa98"/>
<rect x="674.03" y="192.5" width="1" height="27.5" fill="#e55f5e"/>
<rect x="673.43" y="193.5" width="2.2" height="22.5" fill="#e55f5e"/>
<rect x="677.17" y="204.0" width="1" height="26.0" fill="#3eaa98"/>
<rect x="676.57" y="207.0" width="2.2" height="20.0" fill="#3eaa98"/>
<rect x="680.32" y="177.0" width="1" height="32.0" fill="#3eaa98"/>
<rect x="679.72" y="178.6" width="2.2" height="27.2" fill="#3eaa98"/>
<rect x="683.47" y="202.0" width="1" height="48.0" fill="#e55f5e"/>
<rect x="682.87" y="203.0" width="2.2" height="42.0" fill="#e55f5e"/>
<rect x="686.61" y="221.0" width="1" height="33.0" fill="#3eaa98"/>
<rect x="686.01" y="228.0" width="2.2" height="13.0" fill="#3eaa98"/>
<rect x="689.75" y="211.0" width="1" height="31.0" fill="#3eaa98"/>
<rect x="689.15" y="219.0" width="2.2" height="17.0" fill="#3eaa98"/>
<rect x="692.90" y="189.0" width="1" height="42.0" fill="#e55f5e"/>
<rect x="692.30" y="208.0" width="2.2" height="6.0" fill="#e55f5e"/>
<rect x="696.04" y="207.0" width="1" height="30.0" fill="#3eaa98"/>
<rect x="695.44" y="217.6" width="2.2" height="13.4" fill="#3eaa98"/>
<rect x="699.19" y="216.0" width="1" height="37.0" fill="#e55f5e"/>
<rect x="698.59" y="217.6" width="2.2" height="34.4" fill="#e55f5e"/>
<rect x="702.34" y="238.0" width="1" height="32.0" fill="#e55f5e"/>
<rect x="701.74" y="250.0" width="2.2" height="19.0" fill="#e55f5e"/>
<rect x="705.48" y="246.0" width="1" height="27.0" fill="#3eaa98"/>
<rect x="704.88" y="252.0" width="2.2" height="15.0" fill="#3eaa98"/>
<rect x="708.62" y="245.0" width="1" height="42.0" fill="#e55f5e"/>
<rect x="708.02" y="252.0" width="2.2" height="34.0" fill="#e55f5e"/>
<rect x="711.77" y="278.0" width="1" height="31.4" fill="#e55f5e"/>
<rect x="711.17" y="286.0" width="2.2" height="11.4" fill="#e55f5e"/>
<rect x="714.91" y="280.4" width="1" height="43.1" fill="#3eaa98"/>
<rect x="714.31" y="282.0" width="2.2" height="14.0" fill="#3eaa98"/>
<rect x="718.06" y="271.0" width="1" height="24.0" fill="#e55f5e"/>
<rect x="717.46" y="282.0" width="2.2" height="11.0" fill="#e55f5e"/>
<rect x="721.21" y="282.0" width="1" height="18.7" fill="#3eaa98"/>
<rect x="720.61" y="292.0" width="2.2" height="1.5" fill="#3eaa98"/>
<rect x="724.35" y="256.0" width="1" height="41.0" fill="#3eaa98"/>
<rect x="723.75" y="262.0" width="2.2" height="31.0" fill="#3eaa98"/>
<rect x="727.50" y="256.0" width="1" height="17.0" fill="#3eaa98"/>
<rect x="726.89" y="259.0" width="2.2" height="13.0" fill="#3eaa98"/>
<rect x="730.64" y="237.0" width="1" height="25.0" fill="#3eaa98"/>
<rect x="730.04" y="250.0" width="2.2" height="9.0" fill="#3eaa98"/>
<rect x="733.78" y="233.0" width="1" height="22.0" fill="#3eaa98"/>
<rect x="733.18" y="237.0" width="2.2" height="14.0" fill="#3eaa98"/>
<rect x="736.93" y="235.0" width="1" height="29.0" fill="#e55f5e"/>
<rect x="736.33" y="236.0" width="2.2" height="16.0" fill="#e55f5e"/>
<rect x="740.08" y="250.0" width="1" height="14.0" fill="#e55f5e"/>
<rect x="739.48" y="251.0" width="2.2" height="3.0" fill="#e55f5e"/>
<rect x="743.22" y="241.0" width="1" height="15.0" fill="#3eaa98"/>
<rect x="742.62" y="251.0" width="2.2" height="3.0" fill="#3eaa98"/>
<rect x="746.37" y="239.0" width="1" height="18.0" fill="#3eaa98"/>
<rect x="745.76" y="248.0" width="2.2" height="4.0" fill="#3eaa98"/>
<rect x="749.51" y="247.0" width="1" height="23.0" fill="#e55f5e"/>
<rect x="748.91" y="248.0" width="2.2" height="21.0" fill="#e55f5e"/>
<rect x="752.65" y="255.0" width="1" height="23.0" fill="#3eaa98"/>
<rect x="752.05" y="258.0" width="2.2" height="14.0" fill="#3eaa98"/>
<rect x="755.80" y="232.0" width="1" height="28.0" fill="#3eaa98"/>
<rect x="755.20" y="234.0" width="2.2" height="25.0" fill="#3eaa98"/>
<rect x="758.95" y="228.0" width="1" height="30.0" fill="#e55f5e"/>
<rect x="758.35" y="234.0" width="2.2" height="21.0" fill="#e55f5e"/>
<rect x="762.09" y="245.5" width="1" height="19.5" fill="#e55f5e"/>
<rect x="761.49" y="252.0" width="2.2" height="12.0" fill="#e55f5e"/>
<rect x="765.24" y="249.0" width="1" height="20.0" fill="#3eaa98"/>
<rect x="764.63" y="252.0" width="2.2" height="14.0" fill="#3eaa98"/>
<rect x="768.38" y="244.0" width="1" height="17.0" fill="#3eaa98"/>
<rect x="767.78" y="251.0" width="2.2" height="2.0" fill="#3eaa98"/>
<rect x="771.52" y="248.0" width="1" height="17.0" fill="#e55f5e"/>
<rect x="770.92" y="250.0" width="2.2" height="8.0" fill="#e55f5e"/>
<rect x="774.67" y="226.0" width="1" height="56.0" fill="#3eaa98"/>
<rect x="774.07" y="230.0" width="2.2" height="28.0" fill="#3eaa98"/>
<rect x="777.82" y="222.0" width="1" height="67.0" fill="#e55f5e"/>
<rect x="777.22" y="230.0" width="2.2" height="58.0" fill="#e55f5e"/>
<rect x="780.96" y="275.0" width="1" height="29.0" fill="#e55f5e"/>
<rect x="780.36" y="288.0" width="2.2" height="13.0" fill="#e55f5e"/>
<rect x="784.11" y="265.0" width="1" height="36.0" fill="#3eaa98"/>
<rect x="783.50" y="272.0" width="2.2" height="28.0" fill="#3eaa98"/>
<rect x="787.25" y="246.5" width="1" height="45.5" fill="#3eaa98"/>
<rect x="786.65" y="247.0" width="2.2" height="43.0" fill="#3eaa98"/>
<rect x="790.39" y="246.5" width="1" height="25.5" fill="#e55f5e"/>
<rect x="789.79" y="247.5" width="2.2" height="18.5" fill="#e55f5e"/>
<rect x="793.54" y="259.0" width="1" height="12.0" fill="#e55f5e"/>
<rect x="792.94" y="265.0" width="2.2" height="3.0" fill="#e55f5e"/>
<rect x="796.69" y="262.0" width="1" height="16.0" fill="#e55f5e"/>
<rect x="796.09" y="266.0" width="2.2" height="6.0" fill="#e55f5e"/>
<rect x="799.83" y="257.0" width="1" height="26.0" fill="#3eaa98"/>
<rect x="799.23" y="260.0" width="2.2" height="8.0" fill="#3eaa98"/>
<rect x="802.98" y="259.0" width="1" height="26.0" fill="#e55f5e"/>
<rect x="802.38" y="266.0" width="2.2" height="18.0" fill="#e55f5e"/>
<rect x="806.12" y="274.0" width="1" height="16.0" fill="#3eaa98"/>
<rect x="805.52" y="278.0" width="2.2" height="7.0" fill="#3eaa98"/>
<rect x="809.26" y="264.0" width="1" height="25.0" fill="#e55f5e"/>
<rect x="808.66" y="279.0" width="2.2" height="7.0" fill="#e55f5e"/>
<rect x="812.41" y="277.0" width="1" height="12.0" fill="#e55f5e"/>
<rect x="811.81" y="284.0" width="2.2" height="4.0" fill="#e55f5e"/>
<rect x="815.55" y="273.0" width="1" height="22.0" fill="#e55f5e"/>
<rect x="814.95" y="287.0" width="2.2" height="4.0" fill="#e55f5e"/>
<rect x="818.70" y="281.0" width="1" height="25.0" fill="#e55f5e"/>
<rect x="818.10" y="290.5" width="2.2" height="11.5" fill="#e55f5e"/>
<rect x="821.85" y="301.0" width="1" height="25.0" fill="#e55f5e"/>
<rect x="821.25" y="301.6" width="2.2" height="24.0" fill="#e55f5e"/>
</g>
<rect x="856" y="0" width="1" height="502" fill="#2a2e39"/>
<rect x="0" y="486" width="900" height="1" fill="#2a2e39"/>
<g font-size="9.2" fill="#b2b5be" stroke="#b2b5be" stroke-width="0.25" text-anchor="end">
<text x="897" y="5.8" textLength="33.3" lengthAdjust="spacingAndGlyphs">2080.000</text>
<text x="897" y="27.7" textLength="33.3" lengthAdjust="spacingAndGlyphs">2060.000</text>
<text x="897" y="49.6" textLength="33.3" lengthAdjust="spacingAndGlyphs">2040.000</text>
<text x="897" y="71.6" textLength="33.3" lengthAdjust="spacingAndGlyphs">2020.000</text>
<text x="897" y="115.4" textLength="33.3" lengthAdjust="spacingAndGlyphs">1980.000</text>
<text x="897" y="137.4" textLength="33.3" lengthAdjust="spacingAndGlyphs">1960.000</text>
<text x="897" y="159.3" textLength="33.3" lengthAdjust="spacingAndGlyphs">1940.000</text>
<text x="897" y="181.2" textLength="33.3" lengthAdjust="spacingAndGlyphs">1920.000</text>
<text x="897" y="225.1" textLength="33.3" lengthAdjust="spacingAndGlyphs">1880.000</text>
<text x="897" y="247.0" textLength="33.3" lengthAdjust="spacingAndGlyphs">1860.000</text>
<text x="897" y="269.0" textLength="33.3" lengthAdjust="spacingAndGlyphs">1840.000</text>
<text x="897" y="290.9" textLength="33.3" lengthAdjust="spacingAndGlyphs">1820.000</text>
<text x="897" y="334.8" textLength="33.3" lengthAdjust="spacingAndGlyphs">1780.000</text>
<text x="897" y="356.7" textLength="33.3" lengthAdjust="spacingAndGlyphs">1760.000</text>
<text x="897" y="378.6" textLength="33.3" lengthAdjust="spacingAndGlyphs">1740.000</text>
<text x="897" y="400.6" textLength="33.3" lengthAdjust="spacingAndGlyphs">1720.000</text>
<text x="897" y="444.4" textLength="33.3" lengthAdjust="spacingAndGlyphs">1680.000</text>
<text x="897" y="466.4" textLength="33.3" lengthAdjust="spacingAndGlyphs">1660.000</text>
<text x="897" y="488.3" textLength="33.3" lengthAdjust="spacingAndGlyphs">1640.000</text>
</g>
<rect x="857" y="486" width="43" height="16" fill="#151822"/>
<rect x="856" y="486" width="44" height="1" fill="#2a2e39"/>
<rect x="856" y="85.0" width="44" height="11.5" fill="#f2e44e"/>
<text x="897" y="93.8" font-size="9.2" fill="#1a1a10" stroke="#1a1a10" stroke-width="0.25" text-anchor="end" textLength="33.3" lengthAdjust="spacingAndGlyphs">2000.000</text>
<rect x="856" y="194.8" width="44" height="11.5" fill="#f2e44e"/>
<text x="897" y="203.5" font-size="9.2" fill="#1a1a10" stroke="#1a1a10" stroke-width="0.25" text-anchor="end" textLength="33.3" lengthAdjust="spacingAndGlyphs">1900.000</text>
<rect x="856" y="303.9" width="44" height="11.5" fill="#f2e44e"/>
<text x="897" y="312.7" font-size="9.2" fill="#1a1a10" stroke="#1a1a10" stroke-width="0.25" text-anchor="end" textLength="33.3" lengthAdjust="spacingAndGlyphs">1800.000</text>
<rect x="856" y="413.6" width="44" height="11.5" fill="#f2e44e"/>
<text x="897" y="422.3" font-size="9.2" fill="#1a1a10" stroke="#1a1a10" stroke-width="0.25" text-anchor="end" textLength="33.3" lengthAdjust="spacingAndGlyphs">1700.000</text>
<rect x="856" y="319.7" width="44" height="11.5" fill="#ec5352"/>
<text x="897" y="328.4" font-size="9.2" fill="#ffffff" stroke="#ffffff" stroke-width="0.25" text-anchor="end" textLength="33.3" lengthAdjust="spacingAndGlyphs">1785.780</text>
<g font-size="9.2" fill="#b2b5be" stroke="#b2b5be" stroke-width="0.2" text-anchor="middle">
<text x="7.5" y="499">Jul</text>
<text x="76.6" y="499">Aug</text>
<text x="146.0" y="499">Sep</text>
<text x="215.0" y="499">Oct</text>
<text x="281.0" y="499">Nov</text>
<text x="350.0" y="499">Dec</text>
<text x="485.6" y="499">Feb</text>
<text x="548.0" y="499">Mar</text>
<text x="621.0" y="499">Apr</text>
<text x="683.5" y="499">May</text>
<text x="753.4" y="499">Jun</text>
<text x="822.5" y="499">Jul</text>
<text x="419.8" y="499" font-weight="bold">2022</text>
</g>
<text x="8" y="10.7" font-size="11" font-weight="bold" font-style="italic" fill="#dfe378" stroke="#0c0e08" stroke-width="1.3" paint-order="stroke" textLength="102" lengthAdjust="spacingAndGlyphs">Daily - Gold (XAU/USD)</text>
<circle cx="16" cy="470.3" r="11.3" fill="#131620" stroke="#262a35" stroke-width="1"/>
<g transform="translate(8.7,465.5) scale(0.42)" fill="#ffffff"><path d="M14 22H7V11H0V4h14v18zM28 22h-8l7.5-18h8L28 22z"/><circle cx="20" cy="8" r="4"/></g>
<g transform="translate(880.5,496)" fill="none" stroke="#767a89">
<circle r="3.0" stroke-width="1.2"/>
<line x1="0.00" y1="-3.30" x2="0.00" y2="-4.70" stroke-width="1.3"/>
<line x1="2.33" y1="-2.33" x2="3.32" y2="-3.32" stroke-width="1.3"/>
<line x1="3.30" y1="0.00" x2="4.70" y2="0.00" stroke-width="1.3"/>
<line x1="2.33" y1="2.33" x2="3.32" y2="3.32" stroke-width="1.3"/>
<line x1="0.00" y1="3.30" x2="0.00" y2="4.70" stroke-width="1.3"/>
<line x1="-2.33" y1="2.33" x2="-3.32" y2="3.32" stroke-width="1.3"/>
<line x1="-3.30" y1="0.00" x2="-4.70" y2="0.00" stroke-width="1.3"/>
<line x1="-2.33" y1="-2.33" x2="-3.32" y2="-3.32" stroke-width="1.3"/>
</g>
<g transform="translate(822.5,326.8) scale(0.8,0.75)"><path d="M0,0 L0,17 L4,13 L7,20 L10,19 L7,12.3 L12,12.3 Z" fill="#ffffff" stroke="#000000" stroke-width="1.2" stroke-linejoin="round"/></g>
</svg></body></html>
